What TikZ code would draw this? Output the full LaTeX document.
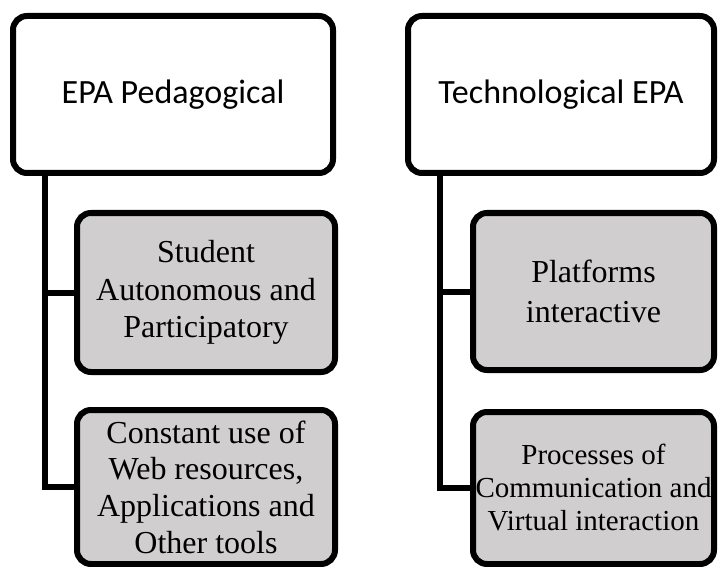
\documentclass[tikz,border=0pt]{standalone}
\usepackage{fontspec}
\setmainfont{Liberation Serif}
\newfontfamily\headfont{Carlito}
\definecolor{boxgray}{HTML}{D0CECE}

\begin{document}
\begin{tikzpicture}[x=0.5pt, y=-0.5pt,
		head/.style={draw, line width=3pt, rounded corners=7pt, fill=white, minimum height=78.5pt, font=\headfont\fontsize{17}{20}\selectfont},
		item/.style={draw, line width=3pt, rounded corners=7pt, fill=boxgray, align=center, inner sep=1pt},
		link/.style={line width=3pt}]
			\useasboundingbox (0,0) rectangle (718,567);
			\node[head, minimum width=160pt] (ped) at (173,  94.5)  {EPA Pedagogical};
			\node[head, minimum width=153pt] (tec) at (561,  94.5)  {Technological EPA};
			\node[item, minimum width=129pt, minimum height=79.5pt, font=\fontsize{16}{18.75}\selectfont] (ped1) at (206, 292.5) {Student\\Autonomous and\\Participatory};
			\node[item, minimum width=129pt, minimum height=77pt, font=\fontsize{16}{18.35}\selectfont] (ped2) at (206, 487) {Constant use of\\Web resources,\\Applications and\\Other tools};
			\node[item, minimum width=120.5pt, minimum height=78.5pt, font=\fontsize{16}{20}\selectfont] (tec1) at (593.5, 291.5) {Platforms\\interactive};
			\node[item, minimum width=120.5pt, minimum height=76pt, font=\fontsize{14.5}{16.5}\selectfont] (tec2) at (593.5, 488) {Processes of\\Communication and\\Virtual interaction};
			
			\def\tree {ped/ped1, ped/ped2, tec/tec1, tec/tec2}  % trunk down from the head, then across
			\foreach \u\v in \tree
			{	\draw[link] ([xshift=17.5pt]\u.south west) |- (\v.west);
			}
		\end{tikzpicture}
\end{document}
